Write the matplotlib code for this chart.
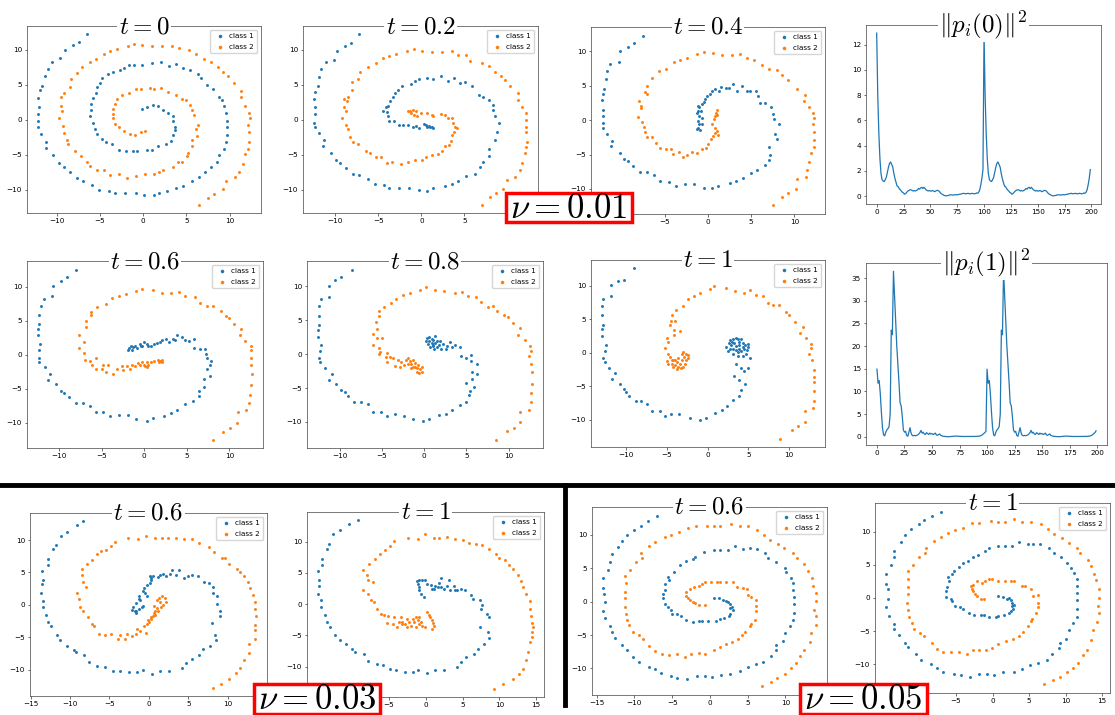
import numpy as np
import matplotlib
matplotlib.use('Agg')
import matplotlib.pyplot as plt
from matplotlib.lines import Line2D
from matplotlib.patches import Rectangle
from matplotlib.ticker import MultipleLocator

plt.rcParams['mathtext.fontset'] = 'cm'
plt.rcParams['font.size'] = 5.2
plt.rcParams['axes.linewidth'] = 0.5
plt.rcParams['axes.edgecolor'] = '#444444'
plt.rcParams['xtick.major.size'] = 1.8
plt.rcParams['ytick.major.size'] = 1.8
plt.rcParams['xtick.major.width'] = 0.4
plt.rcParams['ytick.major.width'] = 0.4
plt.rcParams['xtick.major.pad'] = 1.8
plt.rcParams['ytick.major.pad'] = 1.8

# ---- nu = 0.01 ----
t0_c1 = np.array([
    (-0.1, 1.6), (0.4, 1.9), (1.1, 2.1), (1.7, 2.0), (2.3, 1.4), (2.9, 1.0), (3.4, 0.5), (3.5, -0.2),
    (3.7, -1.0), (3.7, -1.4), (3.5, -2.1), (3.2, -3.0), (2.6, -3.4), (1.7, -3.7), (1.0, -4.3), (0.5, -4.3),
    (-0.7, -4.4), (-1.2, -4.4), (-2.0, -4.5), (-2.8, -4.3), (-3.6, -3.4), (-4.3, -3.1), (-4.8, -2.8),
    (-5.3, -2.0), (-5.6, -1.3), (-5.8, -0.5), (-6.1, 0.6), (-6.0, 1.4), (-6.0, 2.2), (-5.8, 3.1),
    (-5.5, 3.9), (-5.3, 4.7), (-5.0, 5.3), (-4.7, 6.0), (-4.1, 6.5), (-3.5, 6.8), (-2.7, 7.1), (-2.2, 7.4),
    (-1.6, 7.8), (-1.0, 7.9), (-0.1, 7.8), (1.0, 8.1), (2.1, 8.3), (3.0, 7.7), (3.8, 8.0), (4.6, 7.4),
    (5.4, 7.1), (6.3, 6.6), (6.7, 6.0), (7.4, 5.0), (8.1, 4.4), (8.8, 3.3), (9.1, 2.9), (9.3, 2.0),
    (9.6, 1.0), (9.7, -0.1), (9.7, -1.0), (9.7, -2.1), (9.6, -3.2), (9.3, -4.2), (8.8, -5.0), (8.5, -6.0),
    (7.8, -6.7), (7.2, -7.5), (6.5, -8.1), (5.6, -8.7), (4.6, -9.4), (3.8, -9.8), (2.8, -10.1), (1.8, -10.5),
    (1.2, -10.7), (0.1, -10.7), (-0.8, -10.5), (-2.1, -10.5), (-3.2, -10.5), (-4.0, -10.2), (-5.1, -10.0),
    (-5.9, -9.3), (-6.9, -8.7), (-7.7, -8.3), (-8.5, -7.5), (-9.2, -6.7), (-9.7, -6.2), (-10.4, -5.0),
    (-11.2, -4.0), (-11.2, -3.2), (-11.8, -2.0), (-12.2, -1.0), (-12.2, -0.2), (-12.2, 0.8), (-12.1, 1.9),
    (-12.2, 3.1), (-11.9, 4.3), (-11.7, 4.9), (-11.3, 6.3), (-11.0, 7.3), (-10.5, 8.3), (-9.6, 8.8),
    (-9.0, 10.0), (-8.1, 10.7), (-7.4, 11.1), (-6.5, 12.2)])
t0_c2 = np.array([
    (0.2, -1.6), (-0.2, -1.8), (-0.9, -2.1), (-1.5, -2.0), (-2.2, -1.6), (-2.8, -1.0), (-3.3, -0.6),
    (-3.5, 0.2), (-3.5, 0.9), (-3.5, 1.6), (-3.3, 2.2), (-3.0, 3.0), (-2.4, 3.5), (-1.6, 3.8), (-0.8, 4.4),
    (-0.3, 4.4), (0.8, 4.5), (1.2, 4.4), (2.1, 4.5), (2.9, 4.0), (3.8, 3.6), (4.5, 3.0), (5.0, 2.9),
    (5.4, 2.1), (5.7, 1.4), (5.9, 0.7), (6.3, -0.7), (6.1, -1.3), (6.2, -2.3), (5.7, -2.9), (5.6, -3.8),
    (5.2, -4.8), (5.1, -5.2), (4.5, -6.0), (4.0, -6.0), (3.5, -6.7), (2.3, -7.1), (1.8, -7.4), (1.2, -7.7),
    (0.2, -7.7), (-0.8, -8.0), (-1.9, -8.3), (-2.8, -7.7), (-3.8, -7.9), (-4.5, -7.2), (-5.3, -7.1),
    (-6.2, -6.6), (-6.5, -6.0), (-7.2, -5.2), (-7.9, -4.4), (-8.7, -3.4), (-8.8, -2.9), (-9.1, -1.9),
    (-9.3, -0.9), (-9.7, 0.2), (-9.4, 1.3), (-9.5, 2.0), (-9.5, 3.2), (-9.2, 3.9), (-8.5, 4.7), (-8.3, 5.9),
    (-7.6, 6.7), (-7.1, 7.5), (-6.2, 8.2), (-5.5, 8.7), (-4.5, 9.4), (-3.8, 9.8), (-3.0, 10.1), (-1.7, 10.6),
    (-1.1, 10.8), (-0.1, 10.7), (1.0, 10.6), (2.2, 10.6), (3.3, 10.6), (4.1, 10.2), (5.3, 10.0), (6.1, 9.4),
    (7.0, 8.7), (7.9, 8.2), (8.7, 7.6), (9.2, 6.8), (9.8, 6.3), (10.5, 5.2), (11.3, 4.1), (11.3, 3.2),
    (11.8, 2.0), (12.3, 1.0), (12.4, 0.3), (12.1, -0.7), (12.2, -1.8), (12.3, -3.2), (12.1, -4.2),
    (11.8, -4.9), (11.5, -6.3), (11.1, -7.4), (10.6, -8.2), (9.6, -8.7), (9.2, -9.9), (8.2, -10.6),
    (7.5, -11.1), (6.5, -12.1)])

t02_c1 = np.array([
    (-7.2, 12.2), (-8.2, 11.0), (-8.9, 10.6), (-9.8, 9.9), (-10.1, 8.6), (-11.1, 8.2), (-11.6, 7.2),
    (-11.9, 6.1), (-12.0, 4.8), (-12.4, 4.0), (-12.5, 3.0), (-12.3, 1.8), (-12.4, 0.8), (-12.5, -0.4),
    (-12.4, -1.0), (-11.9, -1.9), (-11.3, -2.9), (-11.4, -3.7), (-10.5, -4.8), (-9.9, -5.7), (-9.5, -6.2),
    (-8.8, -6.9), (-7.9, -7.7), (-7.2, -7.9), (-6.2, -8.4), (-5.4, -9.2), (-4.3, -9.3), (-3.7, -9.8),
    (-2.6, -9.7), (-1.4, -9.7), (-0.3, -10.0), (0.7, -10.1), (1.4, -9.8), (2.7, -9.4), (3.5, -9.2),
    (4.3, -8.7), (5.2, -8.0), (6.2, -7.7), (6.8, -6.7), (7.2, -6.0), (7.8, -5.2), (7.9, -4.1), (8.5, -2.9),
    (8.8, -1.8), (9.0, -0.4), (8.6, 0.5), (8.3, 1.4), (8.3, 2.1), (7.8, 2.9), (7.2, 3.3), (6.7, 3.6),
    (5.9, 4.9), (5.1, 5.4), (4.5, 5.3), (3.8, 6.0), (3.1, 5.6), (2.3, 6.3), (1.4, 5.9), (0.6, 6.0),
    (-0.3, 5.8), (-0.7, 5.6), (-1.2, 5.1), (-2.3, 4.9), (-2.7, 4.3), (-3.1, 3.8), (-3.3, 3.2), (-3.6, 2.7),
    (-3.9, 2.0), (-4.1, 1.8), (-4.0, 1.1), (-4.4, 1.2), (-3.9, 0.5), (-3.7, -0.1), (-3.2, -0.2),
    (-2.6, -0.8), (-2.1, -0.7), (-1.6, -0.7), (-1.0, -1.0), (-0.6, -0.9), (-0.3, -1.2), (0.3, -0.6),
    (0.6, -1.0), (0.9, -0.9), (1.2, -1.0), (1.4, -1.1), (0.5, -0.7), (1.0, -1.0)])
t02_c2 = np.array([
    (-1.6, 1.2), (-1.3, 1.3), (-1.0, 1.4), (-0.6, 1.3), (-1.2, 1.0), (-0.9, 0.7), (-0.5, 0.5), (0.0, 1.0),
    (0.6, 1.0), (1.2, 0.7), (1.4, 0.6), (2.3, 0.8), (2.7, 0.7), (3.1, 0.2), (3.6, 0.2), (3.7, -0.4),
    (3.9, -1.0), (4.1, -1.2), (3.8, -1.7), (3.6, -2.2), (3.4, -3.0), (3.2, -3.6), (2.8, -3.8), (2.4, -4.4),
    (1.9, -4.9), (1.2, -5.0), (0.5, -5.3), (0.1, -5.7), (-0.7, -5.7), (-1.6, -6.0), (-2.4, -6.3),
    (-3.4, -6.0), (-4.0, -6.1), (-4.7, -5.3), (-5.3, -5.3), (-6.0, -4.8), (-6.4, -4.4), (-7.3, -3.4),
    (-7.9, -3.2), (-8.3, -2.4), (-8.5, -1.3), (-8.7, -0.7), (-9.2, 0.3), (-8.8, 1.2), (-9.0, 1.9),
    (-8.6, 2.7), (-9.0, 3.0), (-8.5, 3.3), (-8.0, 4.2), (-8.0, 5.4), (-7.4, 5.9), (-7.1, 6.9), (-6.2, 7.5),
    (-5.3, 8.1), (-4.5, 8.8), (-3.7, 9.1), (-2.9, 9.4), (-1.7, 9.9), (-0.9, 10.1), (0.1, 9.9), (1.2, 9.7),
    (2.4, 9.7), (3.5, 9.8), (4.3, 9.3), (5.2, 9.2), (5.7, 8.4), (7.0, 8.1), (7.8, 7.7), (8.6, 6.9),
    (9.3, 6.2), (9.7, 5.7), (10.3, 4.8), (11.2, 3.8), (11.2, 2.9), (11.7, 1.9), (12.2, 1.0), (12.2, 0.0),
    (12.1, -1.0), (12.2, -1.8), (12.3, -3.1), (12.2, -3.9), (12.0, -4.7), (11.7, -6.1), (11.4, -7.2),
    (10.9, -8.1), (9.9, -8.6), (9.5, -9.9), (8.7, -10.4), (8.0, -11.0), (7.0, -12.1)])

t04_c1 = np.array([
    (-7.5, 12.3), (-8.5, 11.2), (-9.3, 10.6), (-10.2, 10.0), (-10.3, 8.5), (-11.3, 8.1), (-11.7, 7.2),
    (-11.8, 6.0), (-12.0, 4.5), (-12.1, 3.8), (-12.3, 2.9), (-12.1, 1.5), (-12.2, 0.6), (-12.2, -0.4),
    (-12.2, -1.1), (-11.7, -2.0), (-11.2, -3.8), (-11.1, -3.0), (-10.2, -4.7), (-9.7, -5.6), (-9.2, -6.0),
    (-8.7, -6.6), (-7.9, -7.5), (-7.0, -7.5), (-6.2, -7.9), (-5.6, -8.9), (-4.5, -9.0), (-3.7, -9.5),
    (-2.7, -9.3), (-1.6, -9.3), (-0.5, -9.8), (0.5, -9.9), (1.2, -9.6), (2.5, -9.2), (3.2, -8.9),
    (4.0, -8.4), (5.0, -7.7), (5.7, -7.2), (6.6, -6.5), (7.0, -5.8), (7.2, -5.0), (7.0, -3.9), (8.0, -2.8),
    (7.8, -2.0), (8.2, -0.6), (7.6, 0.1), (7.5, 0.9), (7.3, 1.9), (6.6, 2.5), (6.0, 2.5), (5.8, 3.5),
    (5.5, 4.2), (4.9, 4.3), (4.5, 4.2), (3.9, 4.9), (3.3, 4.3), (2.9, 5.2), (2.4, 4.7), (2.1, 4.7),
    (1.5, 4.8), (1.3, 4.2), (0.8, 4.5), (0.5, 4.3), (0.2, 3.8), (-0.1, 3.5), (-0.3, 3.1), (-0.5, 2.7),
    (-0.7, 2.3), (-1.0, 1.9), (-1.2, 1.4), (-0.8, 1.3), (-1.0, 0.6), (-0.7, 0.3), (-1.1, -0.1),
    (-1.0, -0.6), (-0.7, -0.5), (-1.1, -1.1), (-0.9, -1.5), (-1.3, -1.3), (-1.2, 2.1), (-1.3, 1.1)])
t04_c2 = np.array([
    (1.0, 1.5), (0.9, 1.1), (0.8, 0.6), (0.7, 0.1), (1.0, 0.8), (0.5, -0.6), (0.8, -1.1), (1.0, -1.6),
    (1.2, -2.2), (0.8, -1.8), (0.6, -2.3), (0.3, -2.8), (0.0, -3.5), (-0.2, -4.1), (-0.7, -4.2),
    (-1.3, -4.8), (-1.9, -4.6), (-2.4, -5.1), (-2.9, -5.3), (-3.3, -4.6), (-4.0, -4.9), (-4.3, -4.2),
    (-4.8, -4.2), (-5.6, -4.0), (-6.0, -3.3), (-6.5, -2.5), (-7.0, -2.4), (-7.3, -1.7), (-7.4, -1.0),
    (-7.6, -0.3), (-8.1, 0.5), (-7.7, 1.8), (-7.8, 2.1), (-8.0, 2.8), (-7.0, 3.8), (-7.3, 4.1),
    (-7.1, 4.9), (-6.5, 6.1), (-5.7, 7.2), (-4.9, 7.5), (-3.9, 8.4), (-3.2, 8.7), (-2.4, 9.1), (-1.3, 9.6),
    (-0.5, 9.9), (0.6, 9.7), (1.6, 9.4), (2.8, 9.4), (3.7, 9.6), (4.5, 9.0), (5.3, 8.8), (6.3, 8.0),
    (7.1, 7.5), (8.0, 7.3), (8.6, 6.6), (9.3, 5.9), (10.3, 4.5), (11.2, 3.7), (11.1, 2.8), (11.7, 1.9),
    (12.2, 1.1), (12.3, 0.3), (12.1, -0.6), (12.3, -1.7), (12.3, -2.9), (12.3, -3.9), (11.9, -4.7),
    (11.7, -6.1), (11.5, -7.2), (11.3, -8.2), (10.3, -8.5), (10.2, -10.0), (9.3, -10.6), (8.5, -11.2),
    (7.5, -12.4)])

t06_c1 = np.array([
    (-8.0, 12.5), (-9.1, 11.4), (-9.8, 10.8), (-10.7, 10.1), (-10.8, 8.6), (-11.8, 8.2), (-12.1, 7.1),
    (-12.3, 5.8), (-12.3, 4.5), (-12.5, 3.8), (-12.5, 2.9), (-12.2, 1.6), (-12.3, 0.6), (-12.4, -0.5),
    (-12.3, -1.1), (-11.7, -1.9), (-11.0, -2.8), (-11.3, -3.7), (-10.3, -4.4), (-9.8, -5.3), (-9.4, -5.6),
    (-8.8, -6.3), (-8.0, -7.1), (-7.2, -7.1), (-6.4, -7.5), (-5.7, -8.5), (-4.8, -8.5), (-4.0, -9.1),
    (-3.0, -8.9), (-1.9, -8.9), (-0.9, -9.5), (0.3, -9.8), (1.0, -9.4), (2.3, -9.0), (3.2, -8.6),
    (3.9, -8.2), (4.8, -7.3), (5.7, -6.9), (6.4, -6.1), (6.5, -5.4), (7.0, -4.8), (7.0, -3.6), (7.7, -3.2),
    (7.4, -2.1), (7.7, -1.5), (7.9, -1.0), (7.4, -0.5), (7.3, 0.1), (7.1, 0.8), (6.6, 0.8), (5.9, 0.9),
    (5.9, 2.3), (5.3, 2.0), (4.8, 2.1), (4.5, 2.6), (3.9, 2.8), (3.6, 2.1), (3.4, 2.3), (2.9, 1.9),
    (2.6, 2.3), (2.1, 2.2), (1.9, 1.8), (1.5, 1.7), (1.2, 1.5), (0.8, 1.3), (0.5, 1.2), (0.3, 1.6),
    (0.0, 1.9), (-0.2, 1.3), (-0.4, 1.2), (-0.5, 1.6), (-0.8, 0.9), (-1.3, 1.1), (-1.4, 0.7), (-1.8, 0.9),
    (-1.9, 0.6), (-1.6, 1.2), (-1.1, 1.3)])
t06_c2 = np.array([
    (8.1, -12.5), (9.3, -11.4), (10.1, -10.8), (10.9, -10.0), (11.0, -8.5), (12.0, -8.2), (12.3, -7.1),
    (12.4, -5.9), (12.5, -4.5), (12.7, -2.8), (12.5, -1.6), (12.5, -0.5), (12.6, 0.6), (12.5, 1.2),
    (11.9, 2.0), (11.2, 2.9), (11.4, 3.8), (10.5, 4.5), (10.0, 5.3), (9.6, 5.7), (9.0, 6.4), (8.1, 7.1),
    (7.4, 7.1), (6.6, 7.6), (6.0, 8.5), (4.8, 8.6), (4.1, 9.2), (3.2, 9.0), (2.1, 9.0), (1.0, 9.5),
    (-0.2, 9.7), (-0.9, 9.3), (-2.1, 8.9), (-3.0, 8.6), (-3.8, 8.3), (-4.5, 7.5), (-5.5, 7.0), (-6.2, 6.3),
    (-6.3, 5.8), (-6.8, 4.9), (-6.8, 4.1), (-7.6, 2.8), (-7.1, 1.9), (-7.7, 1.0), (-7.1, 0.2), (-7.0, -0.8),
    (-6.4, -0.9), (-5.7, -0.5), (-6.1, -1.5), (-5.6, -2.1), (-5.0, -2.1), (-4.8, -1.6), (-4.3, -1.5),
    (-4.5, -2.6), (-3.7, -2.8), (-3.2, -2.1), (-2.6, -1.7), (-2.5, -2.3), (-2.0, -1.7), (-1.7, -2.2),
    (-1.4, -1.5), (-1.1, -1.7), (-0.7, -1.3), (-0.5, -1.5), (-0.2, -1.1), (0.0, -1.5), (0.3, -1.1),
    (0.5, -1.6), (0.3, -1.8), (0.1, -1.7), (0.8, -1.1), (1.2, -1.0), (1.6, -0.8), (1.9, -1.0), (2.1, -0.8),
    (1.7, -1.1), (2.1, -1.1)])

t08_c1 = np.array([
    (-8.5, 12.5), (-9.8, 11.4), (-10.5, 10.9), (-11.3, 10.1), (-11.3, 8.5), (-12.2, 8.1), (-12.4, 7.1),
    (-12.5, 5.7), (-12.5, 4.3), (-12.6, 3.5), (-12.6, 2.6), (-12.2, 1.4), (-12.3, 0.4), (-12.4, -0.5),
    (-12.3, -1.2), (-11.7, -2.0), (-10.9, -2.9), (-11.3, -3.8), (-10.4, -4.4), (-9.8, -5.3), (-9.4, -5.6),
    (-9.0, -6.2), (-8.3, -7.0), (-7.5, -7.0), (-6.6, -7.4), (-6.0, -8.5), (-5.1, -8.5), (-4.4, -9.2),
    (-3.5, -8.9), (-2.4, -9.1), (-1.3, -9.6), (-0.1, -9.9), (0.6, -9.5), (1.8, -9.0), (2.6, -8.8),
    (3.3, -8.3), (4.2, -7.5), (4.9, -7.0), (5.3, -6.0), (5.4, -5.4), (5.9, -4.8), (5.0, -4.2), (5.7, -3.7),
    (6.3, -3.0), (5.7, -2.6), (6.3, -1.4), (5.5, -1.0), (5.5, -0.1), (4.9, -0.6), (4.4, -0.3), (4.3, 1.1),
    (3.7, 1.3), (3.3, 1.0), (3.1, 1.8), (2.7, 1.2), (2.6, 0.7), (2.2, 1.5), (2.0, 0.7), (1.7, 1.3),
    (1.5, 1.0), (1.3, 1.6), (1.1, 1.2), (0.9, 1.7), (0.7, 1.0), (0.6, 2.0), (0.3, 2.4), (0.2, 2.0),
    (0.4, 1.5), (0.6, 2.5), (0.9, 2.3), (1.1, 2.1), (1.0, 1.3), (1.2, 0.8), (1.5, 2.0), (1.3, 2.7),
    (1.9, 2.0)])
t08_c2 = np.array([
    (8.5, -12.6), (9.8, -11.4), (10.6, -10.9), (11.4, -10.0), (11.4, -8.5), (12.4, -8.2), (12.6, -7.1),
    (12.7, -5.8), (12.8, -4.4), (12.8, -2.7), (12.6, -1.5), (12.4, -0.3), (12.6, 0.5), (12.5, 1.2),
    (11.9, 2.1), (11.1, 2.9), (11.4, 3.8), (10.5, 4.6), (9.9, 5.5), (9.5, 5.8), (8.6, 6.4), (8.1, 7.1),
    (7.6, 7.0), (6.7, 7.7), (6.1, 8.5), (5.2, 8.6), (4.5, 9.2), (3.6, 9.0), (2.4, 9.3), (1.3, 9.5),
    (0.2, 9.9), (-0.5, 9.5), (-1.7, 9.1), (-2.5, 8.7), (-3.3, 8.2), (-3.9, 7.6), (-4.8, 6.9), (-5.4, 6.3),
    (-5.4, 5.7), (-5.7, 4.8), (-5.6, 3.7), (-6.1, 3.0), (-5.0, 2.4), (-5.6, 2.4), (-6.1, 1.4), (-5.3, 0.9),
    (-5.2, 0.3), (-5.4, 0.0), (-4.4, 0.2), (-4.5, -0.4), (-4.1, -0.4), (-4.4, -1.2), (-3.7, -0.6),
    (-3.5, -1.7), (-3.1, -0.9), (-2.9, -1.9), (-2.7, -1.1), (-2.4, -1.6), (-2.2, -0.8), (-1.9, -0.5),
    (-1.7, -1.0), (-1.5, -1.4), (-1.3, -0.9), (-1.1, -1.3), (-1.3, -1.9), (-0.9, -2.1), (-0.7, -1.6),
    (-0.5, -2.2), (-0.3, -2.6), (-0.2, -1.9), (-0.9, -2.6), (-1.5, -2.1), (-1.9, -1.4), (-0.6, -2.8),
    (-1.1, -1.9)])

t1_c1 = np.array([
    (-9.0, 12.6), (-10.3, 10.9), (-11.0, 10.8), (-11.9, 10.2), (-11.9, 8.5), (-12.8, 8.1), (-13.0, 7.0),
    (-12.9, 5.7), (-12.8, 4.2), (-13.0, 3.5), (-13.0, 2.5), (-12.5, 1.2), (-12.6, 0.2), (-12.8, -0.7),
    (-12.6, -1.3), (-12.1, -2.2), (-11.3, -3.0), (-11.7, -3.9), (-10.8, -4.7), (-10.3, -5.4), (-10.0, -5.8),
    (-9.6, -6.4), (-8.8, -7.2), (-8.2, -7.2), (-7.4, -7.6), (-6.8, -8.7), (-5.9, -8.7), (-5.2, -9.4),
    (-4.5, -9.2), (-3.5, -9.2), (-2.2, -9.8), (-0.9, -10.0), (-0.2, -9.7), (0.9, -9.0), (1.8, -8.6),
    (2.4, -8.0), (3.1, -7.1), (3.9, -6.4), (4.1, -5.6), (4.6, -4.7), (3.9, -4.1), (3.3, -3.4), (4.5, -2.7),
    (4.1, -2.2), (3.5, -1.7), (5.0, -2.2), (5.2, -0.7), (4.3, -0.4), (3.7, -0.4), (3.1, -0.2), (2.5, 0.3),
    (2.3, 0.9), (2.6, 1.4), (2.8, 1.9), (3.1, 2.1), (3.5, 2.2), (3.7, 2.0), (3.9, 1.6), (4.3, 1.5),
    (4.6, 1.1), (5.0, 1.3), (5.0, 0.8), (4.8, 0.4), (4.5, 0.6), (4.1, 0.2), (3.9, 0.6), (3.5, 0.4),
    (3.1, 0.6), (2.9, 1.1), (3.3, 1.5), (3.5, 1.0), (3.9, 1.1), (4.3, 0.9), (2.7, 0.6), (3.7, 0.1),
    (3.0, 1.6), (4.1, 2.0), (4.7, -0.1)])
t1_c2 = np.array([
    (8.9, -12.8), (10.3, -11.5), (11.1, -11.0), (12.0, -10.3), (11.9, -8.7), (12.9, -8.3), (13.0, -7.2),
    (13.0, -5.7), (13.0, -4.4), (13.1, -3.6), (13.0, -2.6), (12.8, -1.1), (12.4, -0.2), (12.7, 0.7),
    (12.7, 1.3), (12.1, 2.2), (11.3, 2.9), (11.7, 3.9), (10.7, 4.6), (10.0, 5.6), (9.6, 6.1), (8.7, 7.1),
    (8.0, 7.1), (7.4, 7.5), (6.8, 8.5), (5.9, 8.6), (5.2, 9.4), (4.5, 9.0), (3.4, 9.2), (2.2, 9.7),
    (0.8, 10.0), (0.3, 9.5), (-0.9, 9.0), (-1.7, 8.5), (-2.4, 8.0), (-3.0, 7.0), (-3.9, 6.4), (-4.4, 5.6),
    (-4.5, 4.7), (-4.0, 4.7), (-4.6, 4.1), (-4.1, 3.4), (-3.4, 3.3), (-5.0, 2.2), (-4.1, 2.6), (-4.8, 1.6),
    (-5.2, 0.7), (-4.8, -0.1), (-4.6, -0.6), (-5.0, -1.2), (-4.8, -1.6), (-4.4, -1.7), (-4.0, -1.8),
    (-4.2, -1.0), (-3.8, -1.3), (-3.6, -2.1), (-3.4, -1.6), (-3.2, -1.1), (-2.9, -0.6), (-2.6, -1.1),
    (-2.4, -0.7), (-2.4, -0.3), (-3.0, -2.1), (-3.3, -2.3), (-3.8, -2.4), (-4.2, -2.1), (-2.8, -1.6),
    (-3.2, -0.2), (-3.6, -0.7), (-4.0, -1.1), (-4.4, -1.1), (-2.6, -0.1), (-3.0, 0.1)])

# ---- nu = 0.03 ----
nu03_t06_c1 = np.array([
    (-8.3, 12.9), (-9.1, 12.3), (-10.4, 11.3), (-11.1, 10.6), (-11.8, 9.3), (-12.1, 8.6), (-12.8, 7.1),
    (-12.8, 6.2), (-13.5, 5.3), (-13.4, 3.9), (-13.5, 3.2), (-13.7, 1.8), (-13.4, 0.6), (-13.4, -0.3),
    (-13.0, -1.5), (-12.8, -2.6), (-12.4, -3.3), (-11.7, -4.6), (-11.3, -5.4), (-10.4, -6.3), (-9.5, -7.0),
    (-9.2, -7.3), (-8.2, -7.7), (-7.6, -8.9), (-6.6, -9.4), (-5.5, -9.6), (-4.6, -10.3), (-3.7, -10.3),
    (-2.5, -10.4), (-1.5, -10.4), (-0.7, -10.1), (0.4, -10.7), (1.4, -10.2), (2.6, -10.3), (4.2, -9.7),
    (4.7, -9.0), (5.4, -8.3), (6.3, -7.7), (6.9, -6.9), (7.8, -6.3), (8.5, -5.5), (8.4, -4.6), (8.0, -2.8),
    (9.0, -1.8), (9.0, -0.9), (8.6, 0.2), (8.6, 1.3), (8.1, 1.9), (8.1, 2.7), (7.6, 3.3), (7.0, 3.6),
    (6.2, 4.4), (5.5, 4.6), (5.0, 4.5), (4.5, 4.1), (3.8, 5.4), (3.4, 4.6), (2.9, 5.4), (2.7, 4.7),
    (2.2, 4.4), (1.8, 4.7), (1.4, 4.6), (1.2, 4.3), (0.5, 4.4), (0.3, 3.8), (0.1, 3.3), (-0.2, 3.1),
    (-0.6, 2.6), (-0.8, 2.1), (-0.5, 1.8), (-0.3, 1.3), (-1.2, 1.4), (-1.3, 0.9), (-1.6, 0.3), (-2.0, -0.3),
    (-2.1, -0.8), (-1.8, -1.0), (-1.6, -0.9), (-1.2, -0.7), (-0.9, -0.4), (-0.7, -0.2), (-1.1, 0.8),
    (-1.6, -1.2), (0.3, 4.1), (0.2, 4.5)])
nu03_t06_c2 = np.array([
    (8.1, -12.8), (9.1, -12.3), (10.2, -11.4), (11.1, -10.5), (11.6, -9.7), (12.1, -8.6), (12.7, -7.4),
    (12.7, -6.1), (13.4, -5.3), (13.4, -3.9), (13.4, -3.1), (13.6, -1.8), (13.4, -0.7), (13.4, 0.4),
    (13.2, 1.5), (12.8, 2.6), (12.6, 3.6), (12.1, 4.4), (11.6, 5.1), (11.2, 5.6), (10.2, 6.3), (9.6, 7.2),
    (9.2, 7.3), (8.3, 8.1), (7.6, 9.0), (6.3, 9.5), (5.4, 10.1), (4.5, 10.1), (3.4, 10.4), (2.4, 10.3),
    (1.6, 10.4), (0.8, 10.3), (-0.4, 10.7), (-1.4, 10.1), (-2.6, 10.4), (-4.3, 9.7), (-4.8, 9.1),
    (-5.4, 8.5), (-6.1, 8.3), (-6.6, 7.8), (-7.2, 7.0), (-7.9, 6.3), (-8.5, 5.5), (-8.5, 4.6), (-8.4, 3.6),
    (-8.0, 2.8), (-9.1, 1.8), (-8.9, 0.9), (-8.7, -0.3), (-8.3, -1.0), (-7.7, -1.9), (-7.2, -2.9),
    (-7.0, -3.3), (-6.3, -4.5), (-5.5, -4.7), (-4.8, -4.5), (-3.9, -5.3), (-3.6, -4.6), (-3.0, -5.3),
    (-2.8, -4.5), (-2.2, -4.8), (-1.6, -4.5), (-1.1, -4.1), (-1.5, -3.8), (-0.4, -4.3), (-0.6, -3.3),
    (-0.3, -2.9), (0.0, -2.7), (0.3, -2.2), (0.5, -1.8), (0.6, -1.3), (0.8, -1.0), (1.0, -0.5), (0.6, -0.2),
    (1.0, 0.8), (1.3, 1.0), (1.7, 1.3), (2.0, 1.0), (2.2, 0.5), (1.8, -0.1), (1.5, -0.3), (1.1, -1.0),
    (0.8, -1.5), (0.3, -1.9), (-0.1, -2.3), (1.4, 0.5)])

nu03_t1_c1 = np.array([
    (-9.2, 13.4), (-10.4, 12.9), (-11.7, 11.8), (-12.6, 11.2), (-13.2, 9.7), (-13.5, 8.9), (-14.1, 7.2),
    (-14.1, 6.2), (-14.7, 5.3), (-14.5, 3.8), (-14.5, 2.9), (-14.7, 1.7), (-14.3, 0.6), (-14.3, -0.5),
    (-13.7, -1.8), (-13.5, -2.8), (-13.1, -3.6), (-12.4, -4.9), (-11.7, -5.7), (-10.8, -6.4), (-10.0, -7.1),
    (-9.7, -7.6), (-8.4, -7.9), (-7.9, -9.1), (-6.7, -9.6), (-5.8, -9.7), (-4.9, -10.4), (-4.0, -10.5),
    (-2.9, -10.8), (-1.7, -10.8), (-1.1, -10.5), (0.2, -11.0), (1.2, -10.5), (2.5, -10.6), (4.3, -10.0),
    (4.8, -9.2), (5.5, -8.4), (6.6, -7.9), (7.1, -7.1), (7.9, -6.3), (8.6, -5.4), (8.5, -4.4), (7.4, -3.6),
    (8.6, -2.1), (8.3, -1.5), (7.5, -0.7), (7.7, -0.2), (7.3, 0.6), (6.4, 0.9), (6.1, 1.5), (5.3, 2.2),
    (4.8, 2.5), (4.3, 2.2), (4.0, 2.2), (3.8, 2.9), (3.3, 2.3), (3.2, 3.8), (2.9, 2.9), (2.4, 2.5),
    (2.1, 4.2), (1.8, 3.4), (1.6, 2.7), (1.2, 2.9), (0.9, 2.5), (0.7, 3.0), (0.2, 3.3), (-0.1, 3.8),
    (-0.5, 3.9), (-0.9, 3.8), (-1.1, 3.3), (-1.0, 2.8), (-0.9, 2.2), (-0.6, 1.7), (-0.3, 1.2), (1.1, 2.5),
    (2.0, 2.7), (-1.2, 3.7)])
nu03_t1_c2 = np.array([
    (9.3, -13.5), (10.5, -12.8), (11.8, -12.0), (12.6, -11.1), (13.2, -10.3), (13.6, -8.9), (13.9, -7.6),
    (14.2, -6.0), (14.5, -5.2), (14.5, -4.4), (14.6, -3.6), (14.5, -3.0), (14.3, -1.9), (14.1, -0.7),
    (14.1, 0.5), (13.6, 1.7), (13.2, 2.8), (12.9, 3.7), (12.5, 4.7), (11.9, 5.7), (11.3, 6.2), (10.8, 7.0),
    (10.0, 7.4), (9.5, 8.1), (8.6, 8.9), (7.7, 9.4), (6.8, 9.7), (5.8, 9.8), (5.0, 10.3), (4.0, 10.5),
    (2.9, 10.7), (1.8, 10.6), (1.1, 10.6), (-0.1, 11.2), (-1.1, 10.5), (-2.4, 10.6), (-4.3, 10.1),
    (-4.9, 9.3), (-5.5, 8.6), (-6.3, 8.1), (-6.9, 7.2), (-7.8, 6.5), (-8.5, 5.5), (-8.0, 4.6), (-7.9, 3.9),
    (-7.2, 3.6), (-8.6, 2.2), (-7.9, 1.7), (-7.5, 0.6), (-7.0, 0.4), (-6.7, -0.7), (-6.1, -1.5),
    (-5.7, -1.8), (-5.3, -3.0), (-4.5, -3.1), (-4.3, -2.1), (-3.9, -3.6), (-3.6, -2.8), (-3.4, -2.1),
    (-3.2, -3.1), (-2.8, -3.2), (-2.6, -2.4), (-2.3, -2.8), (-2.0, -3.5), (-1.8, -2.4), (-1.6, -2.8),
    (-1.4, -2.1), (-1.1, -2.6), (-0.9, -3.1), (-0.7, -2.8), (-0.5, -3.5), (-1.4, -3.6), (-2.5, -3.6),
    (-3.3, -2.8), (0.2, -1.2), (0.4, -1.8), (0.5, -2.1), (0.8, -2.6), (1.0, -3.0), (1.1, -3.5), (0.9, -3.9),
    (-0.1, -3.6), (-0.9, -2.0), (-5.2, -1.9)])

# ---- nu = 0.05 ----
nu05_t06_c1 = np.array([
    (-7.0, 12.9), (-8.2, 12.1), (-9.1, 11.4), (-10.1, 10.8), (-11.0, 10.0), (-11.7, 9.1), (-12.2, 8.2),
    (-13.0, 7.2), (-13.2, 6.0), (-13.5, 4.7), (-14.1, 3.5), (-14.2, 2.1), (-14.0, 1.2), (-13.9, 0.0),
    (-14.2, -1.4), (-13.9, -2.5), (-13.2, -3.7), (-13.0, -4.6), (-12.6, -5.5), (-11.6, -6.5), (-11.0, -7.2),
    (-10.2, -8.3), (-9.4, -9.0), (-8.1, -9.8), (-7.3, -10.1), (-6.5, -10.7), (-5.1, -11.2), (-4.4, -11.4),
    (-3.0, -11.6), (-1.7, -11.1), (-0.7, -11.1), (0.3, -11.3), (1.5, -11.0), (2.7, -10.9), (4.0, -10.4),
    (5.0, -9.8), (6.1, -9.4), (7.1, -9.1), (8.1, -8.2), (8.7, -7.2), (8.8, -6.5), (9.7, -5.9), (9.9, -4.7),
    (10.6, -3.7), (11.0, -2.8), (11.1, -1.7), (11.1, -0.3), (11.1, 0.7), (11.0, 1.8), (11.0, 2.8),
    (10.8, 3.6), (10.1, 4.4), (9.9, 5.1), (8.7, 6.0), (7.7, 6.6), (7.3, 7.3), (6.3, 7.9), (5.3, 8.1),
    (4.4, 7.9), (3.3, 8.4), (2.4, 7.8), (1.3, 7.7), (0.6, 7.8), (-0.8, 7.4), (-2.0, 6.7), (-2.3, 6.4),
    (-3.1, 6.1), (-3.9, 5.5), (-4.8, 4.5), (-5.5, 3.7), (-5.4, 3.3), (-6.0, 2.7), (-5.9, 1.8), (-6.2, 1.2),
    (-6.2, 0.6), (-6.0, -0.3), (-5.5, -0.8), (-5.2, -1.3), (-5.0, -1.9), (-4.4, -1.9), (-3.8, -2.2),
    (-3.1, -2.8), (-2.3, -3.0), (-1.4, -2.9), (-1.0, -2.9), (-0.3, -2.9), (0.8, -2.9), (1.4, -2.6),
    (1.9, -2.4), (2.5, -2.1), (2.7, -1.8), (3.0, -1.3), (2.9, -0.8), (2.7, -0.4), (2.4, -0.1), (2.1, 0.1),
    (1.2, 0.6), (0.5, 0.6), (2.7, -1.0), (1.7, 0.3)])
nu05_t06_c2 = np.array([
    (6.9, -12.7), (8.1, -12.0), (8.9, -11.4), (9.9, -10.8), (10.8, -10.0), (11.4, -9.2), (12.0, -8.1),
    (12.5, -7.2), (13.2, -6.0), (13.4, -4.7), (14.0, -3.5), (14.0, -2.2), (13.8, -1.2), (14.1, 0.1),
    (14.0, 1.3), (13.7, 2.4), (13.5, 3.6), (13.0, 4.6), (12.5, 5.6), (11.5, 6.5), (11.0, 7.3), (9.8, 8.1),
    (9.0, 8.7), (8.0, 9.3), (7.2, 10.0), (6.2, 10.8), (5.0, 11.3), (4.0, 11.4), (2.8, 11.6), (1.4, 11.3),
    (0.6, 11.3), (-0.4, 11.4), (-1.8, 11.3), (-2.9, 11.1), (-4.1, 10.4), (-5.1, 10.0), (-6.0, 9.7),
    (-7.3, 9.0), (-8.0, 8.3), (-9.1, 7.3), (-9.0, 6.6), (-9.8, 6.0), (-10.6, 4.7), (-11.2, 3.9),
    (-11.1, 2.8), (-11.2, 1.5), (-11.2, 0.6), (-11.3, -0.8), (-11.1, -1.9), (-11.0, -2.8), (-10.7, -3.5),
    (-10.2, -4.5), (-9.4, -5.0), (-8.9, -5.6), (-8.0, -6.6), (-7.3, -7.4), (-6.4, -7.9), (-5.4, -8.0),
    (-4.3, -7.9), (-3.3, -8.3), (-2.5, -7.8), (-1.5, -7.7), (-0.6, -7.8), (0.6, -7.2), (1.3, -6.8),
    (2.2, -6.4), (2.9, -6.1), (3.7, -5.6), (4.3, -5.0), (4.7, -4.5), (5.3, -3.7), (5.4, -3.3), (6.0, -2.7),
    (6.1, -1.4), (6.1, -0.7), (6.1, 0.3), (5.5, 0.7), (5.1, 1.0), (4.9, 1.9), (4.4, 2.1), (3.6, 2.2),
    (3.0, 2.9), (2.2, 3.0), (1.4, 2.9), (0.9, 2.9), (0.2, 3.0), (-0.6, 2.9), (-1.0, 2.7), (-1.4, 2.3),
    (-2.1, 2.2), (-2.6, 1.9), (-3.1, 1.4), (-3.2, 0.9), (-2.9, 0.6), (-2.6, 0.3), (-2.3, 0.0), (-2.0, -0.2),
    (-1.4, -0.5), (-0.7, -0.5)])

nu05_t1_c1 = np.array([
    (-7.1, 13.0), (-8.3, 12.4), (-9.3, 11.8), (-10.1, 11.1), (-11.1, 10.4), (-12.0, 9.5), (-12.5, 8.5),
    (-13.5, 7.1), (-13.5, 6.1), (-13.9, 4.9), (-14.5, 3.6), (-14.6, 2.1), (-14.3, 1.3), (-14.3, -0.1),
    (-14.5, -1.4), (-14.2, -2.7), (-13.5, -3.9), (-13.4, -4.7), (-12.8, -5.6), (-11.9, -6.7), (-11.5, -7.4),
    (-10.5, -8.5), (-9.8, -9.3), (-8.4, -10.0), (-7.6, -10.5), (-6.7, -11.1), (-5.3, -11.5), (-4.3, -11.6),
    (-3.1, -11.9), (-1.8, -11.4), (-0.8, -11.4), (0.2, -11.6), (1.5, -11.2), (2.9, -11.2), (4.1, -10.7),
    (5.1, -10.1), (6.2, -9.8), (7.4, -9.3), (8.2, -8.5), (9.1, -7.6), (9.2, -6.8), (10.1, -6.1),
    (10.5, -4.8), (11.0, -3.7), (11.5, -2.8), (11.5, -1.6), (11.5, -0.3), (11.5, 0.7), (11.5, 1.8),
    (11.5, 2.9), (11.2, 3.8), (10.7, 4.5), (10.2, 5.3), (9.3, 6.1), (8.4, 6.7), (7.7, 7.6), (6.5, 8.1),
    (5.6, 8.1), (4.8, 8.1), (3.6, 8.5), (2.7, 7.8), (1.7, 7.8), (0.8, 7.8), (-0.5, 7.5), (-1.0, 7.0),
    (-2.0, 6.4), (-2.7, 6.1), (-3.4, 5.6), (-4.0, 5.3), (-4.6, 4.6), (-5.2, 4.1), (-5.5, 3.6), (-6.1, 3.2),
    (-6.0, 2.6), (-6.2, 1.6), (-6.3, 1.1), (-6.4, 0.2), (-5.7, -0.1), (-5.5, -0.4), (-5.1, -1.2),
    (-4.5, -1.3), (-4.0, -1.6), (-3.2, -2.3), (-2.5, -2.5), (-1.6, -2.5), (-1.2, -2.6), (-0.5, -2.8),
    (0.5, -2.8), (0.8, -2.7), (1.6, -2.6), (2.2, -2.3), (2.5, -2.0), (2.8, -1.6), (3.0, -1.1), (2.7, -0.7),
    (2.5, -0.3), (2.0, -0.2), (1.4, 0.2), (0.7, 0.3), (2.3, 0.0), (2.6, -1.2)])
nu05_t1_c2 = np.array([
    (7.1, -13.0), (8.3, -12.4), (9.2, -11.9), (10.2, -11.2), (11.0, -10.6), (11.7, -9.8), (12.4, -8.6),
    (12.9, -7.8), (13.5, -6.3), (13.8, -4.8), (14.3, -3.6), (14.6, -2.2), (14.4, -1.2), (14.6, 0.0),
    (14.5, 1.4), (14.2, 2.7), (13.9, 3.6), (13.5, 4.8), (13.1, 5.7), (12.0, 6.7), (11.5, 7.6), (10.5, 8.3),
    (9.5, 9.0), (8.4, 9.7), (7.6, 10.4), (6.6, 11.1), (5.3, 11.5), (4.1, 11.5), (3.0, 11.9), (1.7, 11.4),
    (0.8, 11.4), (-0.2, 11.6), (-1.8, 11.3), (-2.8, 11.3), (-4.1, 10.6), (-5.1, 10.2), (-6.1, 9.8),
    (-7.1, 9.2), (-8.0, 8.6), (-9.1, 7.5), (-9.2, 6.8), (-10.0, 6.1), (-10.9, 5.0), (-11.5, 4.0),
    (-11.5, 2.9), (-11.6, 1.6), (-11.6, 0.6), (-11.7, -0.7), (-11.5, -1.8), (-11.4, -2.8), (-11.0, -3.7),
    (-10.7, -4.7), (-9.9, -5.2), (-9.3, -5.7), (-8.3, -6.8), (-7.6, -7.7), (-6.7, -8.2), (-5.7, -8.2),
    (-4.6, -8.1), (-3.5, -8.4), (-2.7, -7.8), (-1.8, -7.8), (-0.9, -7.8), (-0.1, -7.5), (0.8, -6.9),
    (1.8, -6.5), (2.8, -6.1), (3.6, -5.7), (4.2, -5.1), (4.8, -4.2), (5.2, -3.5), (5.4, -3.1), (5.9, -2.3),
    (6.2, -1.3), (6.2, -0.7), (6.2, 0.5), (5.5, 0.3), (5.2, 1.3), (4.5, 1.8), (4.0, 1.8), (3.0, 2.5),
    (2.5, 2.5), (1.7, 2.6), (0.8, 2.6), (-0.1, 2.8), (-0.5, 2.8), (-1.0, 2.6), (-1.5, 2.2), (-2.1, 2.5),
    (-2.6, 2.0), (-3.0, 1.8), (-2.8, 1.4), (-2.6, 1.0), (-2.4, 0.6), (-2.1, 0.3), (-1.6, -0.2), (-1.1, -0.2)])

# ---- ||p_i(t)||^2 over the 200 samples ----
norm0 = [
    12.9, 8.0, 5.0, 3.0, 1.8, 1.3, 1.2, 1.15, 1.3, 1.5, 1.9, 2.3, 2.6, 2.7, 2.5, 2.3, 1.8, 1.4, 1.1, 0.8,
    0.75, 0.6, 0.5, 0.4, 0.3, 0.25, 0.15, 0.2, 0.3, 0.4, 0.45, 0.5, 0.5, 0.45, 0.4, 0.45, 0.4, 0.45, 0.5, 0.6,
    0.55, 0.65, 0.7, 0.6, 0.7, 0.6, 0.5, 0.45, 0.4, 0.45, 0.4, 0.4, 0.45, 0.4, 0.35, 0.4, 0.45, 0.45, 0.4, 0.3,
    0.2, 0.15, 0.1, 0.05, 0.03, 0.02, 0.05, 0.05, 0.1, 0.1, 0.1, 0.08, 0.1, 0.1, 0.12, 0.1, 0.12, 0.15, 0.15, 0.18,
    0.2, 0.22, 0.2, 0.18, 0.2, 0.22, 0.2, 0.18, 0.2, 0.22, 0.2, 0.18, 0.2, 0.25, 0.22, 0.3, 0.5, 0.9, 1.4, 2.1,
    12.9, 8.0, 5.0, 3.0, 1.8, 1.3, 1.2, 1.15, 1.3, 1.5, 1.9, 2.3, 2.6, 2.7, 2.5, 2.3, 1.8, 1.4, 1.1, 0.8,
    0.75, 0.6, 0.5, 0.4, 0.3, 0.25, 0.15, 0.2, 0.3, 0.4, 0.45, 0.5, 0.5, 0.45, 0.4, 0.45, 0.4, 0.45, 0.5, 0.6,
    0.55, 0.65, 0.7, 0.6, 0.7, 0.6, 0.5, 0.45, 0.4, 0.45, 0.4, 0.4, 0.45, 0.4, 0.35, 0.4, 0.45, 0.45, 0.4, 0.3,
    0.2, 0.15, 0.1, 0.05, 0.03, 0.02, 0.05, 0.05, 0.1, 0.1, 0.1, 0.08, 0.1, 0.1, 0.12, 0.1, 0.12, 0.15, 0.15, 0.18,
    0.2, 0.22, 0.2, 0.18, 0.2, 0.22, 0.2, 0.18, 0.2, 0.22, 0.2, 0.18, 0.2, 0.25, 0.22, 0.3, 0.5, 0.9, 1.4, 2.1]
norm1 = [
    14.9, 11.8, 12.4, 9.6, 5.5, 2.0, 0.4, 0.2, 1.0, 1.5, 1.8, 2.2, 5.0, 23.5, 22.5, 36.5, 31.0, 25.0, 20.0, 16.0,
    12.0, 7.5, 6.8, 4.5, 1.5, 1.0, 1.2, 0.3, 0.1, 1.0, 2.0, 0.8, 0.3, 0.2, 0.3, 0.2, 0.3, 0.4, 0.6, 0.9,
    1.4, 0.8, 1.0, 0.6, 0.5, 0.9, 0.7, 0.5, 0.8, 0.6, 0.7, 0.5, 0.6, 0.8, 0.4, 0.3, 0.5, 0.6, 0.3, 0.2,
    0.1, 0.08, 0.05, 0.03, 0.0, 0.0, 0.02, 0.03, 0.05, 0.08, 0.1, 0.12, 0.15, 0.12, 0.1, 0.1, 0.08, 0.06, 0.05, 0.05,
    0.05, 0.05, 0.04, 0.04, 0.05, 0.05, 0.05, 0.05, 0.06, 0.06, 0.07, 0.08, 0.1, 0.15, 0.2, 0.3, 0.5, 0.7, 0.9, 1.2,
    14.9, 11.8, 12.4, 9.6, 5.5, 2.0, 0.4, 0.2, 1.0, 1.5, 1.8, 2.2, 5.0, 23.5, 22.5, 36.5, 31.0, 25.0, 20.0, 16.0,
    12.0, 7.5, 6.8, 4.5, 1.5, 1.0, 1.2, 0.3, 0.1, 1.0, 2.0, 0.8, 0.3, 0.2, 0.3, 0.2, 0.3, 0.4, 0.6, 0.9,
    1.4, 0.8, 1.0, 0.6, 0.5, 0.9, 0.7, 0.5, 0.8, 0.6, 0.7, 0.5, 0.6, 0.8, 0.4, 0.3, 0.5, 0.6, 0.3, 0.2,
    0.1, 0.08, 0.05, 0.03, 0.0, 0.0, 0.02, 0.03, 0.05, 0.08, 0.1, 0.12, 0.15, 0.12, 0.1, 0.1, 0.08, 0.06, 0.05, 0.05,
    0.05, 0.05, 0.04, 0.04, 0.05, 0.05, 0.05, 0.05, 0.06, 0.06, 0.07, 0.08, 0.1, 0.15, 0.2, 0.3, 0.5, 0.7, 0.9, 1.3]

nu_labels = [r'$\nu = 0.01$', r'$\nu = 0.03$', r'$\nu = 0.05$']

W, H = 1115, 715
fig = plt.figure(figsize=(W / 100, H / 100), dpi=100)
all_axes = []


def px_axes(x0, y0, x1, y1):
    """pixel box (top-left origin) -> new axes"""
    ax = fig.add_axes([x0 / W, 1 - y1 / H, (x1 - x0) / W, (y1 - y0) / H])
    all_axes.append(ax)
    return ax


def put_title(ax, text):
    # title sits on the top spine with a white patch behind it
    ax.text(0.5, 1.0, text, transform=ax.transAxes, ha='center', va='center',
            fontsize=18, zorder=10,
            bbox=dict(boxstyle='square,pad=0.05', fc='white', ec='none'))


def spiral_panel(box, c1, c2, title):
    ax = px_axes(*box)
    ax.scatter(c1[:, 0], c1[:, 1], s=4.5, color='#1f77b4', label='class 1', linewidths=0)
    ax.scatter(c2[:, 0], c2[:, 1], s=4.5, color='#ff7f0e', label='class 2', linewidths=0)
    ax.xaxis.set_major_locator(MultipleLocator(5))
    ax.yaxis.set_major_locator(MultipleLocator(5))
    ax.legend(loc='upper right', fontsize=5.2, markerscale=1.2, handletextpad=0.3,
              borderpad=0.5, labelspacing=0.6, handlelength=1.8)
    put_title(ax, title)
    return ax


def norm_panel(box, vals, title, ystep):
    ax = px_axes(*box)
    ax.plot(np.arange(len(vals)), vals, color='#1f77b4', lw=0.9)
    ax.xaxis.set_major_locator(MultipleLocator(25))
    ax.yaxis.set_major_locator(MultipleLocator(ystep))
    put_title(ax, title)
    return ax


spiral_panel((27, 26, 261, 213), t0_c1, t0_c2, r'$t = 0$')
spiral_panel((303, 26, 538, 213), t02_c1, t02_c2, r'$t = 0.2$')
spiral_panel((591, 27, 825, 214), t04_c1, t04_c2, r'$t = 0.4$')
norm_panel((866, 25, 1101, 204), norm0, r'$\|p_i(0)\|^2$', 2)

spiral_panel((27, 261, 263, 448), t06_c1, t06_c2, r'$t = 0.6$')
spiral_panel((307, 261, 543, 448), t08_c1, t08_c2, r'$t = 0.8$')
spiral_panel((591, 260, 825, 447), t1_c1, t1_c2, r'$t = 1$')
norm_panel((866, 263, 1107, 445), norm1, r'$\|p_i(1)\|^2$', 5)

spiral_panel((30, 513, 267, 696), nu03_t06_c1, nu03_t06_c2, r'$t = 0.6$')
spiral_panel((307, 512, 544, 697), nu03_t1_c1, nu03_t1_c2, r'$t = 1$')
spiral_panel((592, 507, 827, 695), nu05_t06_c1, nu05_t06_c2, r'$t = 0.6$')
spiral_panel((875, 503, 1110, 693), nu05_t1_c1, nu05_t1_c2, r'$t = 1$')

# separators
fig.add_artist(Line2D([0, 1], [1 - 485 / H, 1 - 485 / H], transform=fig.transFigure,
                      color='black', lw=3.5))
fig.add_artist(Line2D([565 / W, 565 / W], [1 - 705 / H, 1 - 485 / H], transform=fig.transFigure,
                      color='black', lw=3.5))

# viscosity labels in red boxes (pixel boxes, top-left origin)
nu_boxes = [(506, 193, 632, 222), (254, 684, 380, 714), (800, 684, 927, 714)]
for label, (x0, y0, x1, y1) in zip(nu_labels, nu_boxes):
    fig.add_artist(Rectangle((x0 / W, 1 - y1 / H), (x1 - x0) / W, (y1 - y0) / H,
                             transform=fig.transFigure, fc='white', ec='red', lw=2.5, zorder=19))
    fig.text((x0 + x1) / 2 / W, 1 - (y0 + y1) / 2 / H, label, fontsize=25,
             ha='center', va='center', zorder=20)

# tick labels that sit under a red box are hidden in the reference
fig.canvas.draw()
for ax in all_axes:
    for lab in ax.get_xticklabels() + ax.get_yticklabels():
        bb = lab.get_window_extent()
        for (x0, y0, x1, y1) in nu_boxes:
            if bb.x1 > x0 and bb.x0 < x1 and bb.y1 > H - y1 and bb.y0 < H - y0:
                lab.set_visible(False)

fig.savefig('out.png', dpi=100)
